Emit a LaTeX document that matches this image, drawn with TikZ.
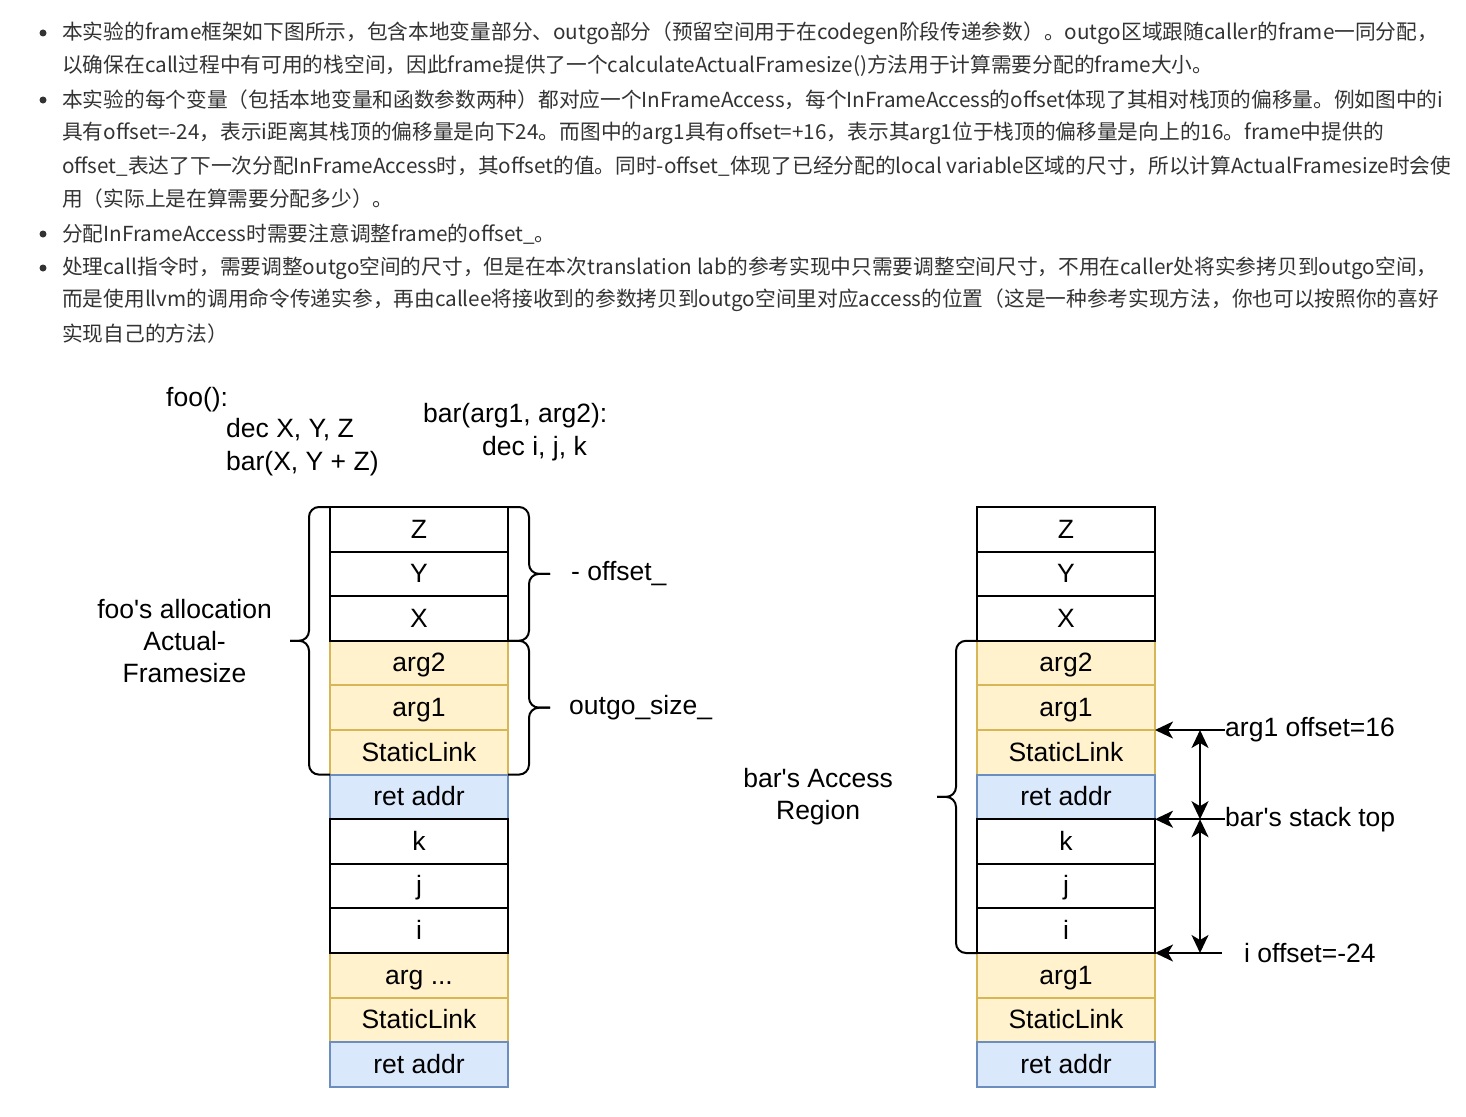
\documentclass[tikz,border=0pt]{standalone}
\usepackage{fontspec}
\setmainfont{Liberation Sans}
\newfontfamily\cjk{Noto Sans CJK SC}
\usetikzlibrary{positioning,arrows.meta}
\definecolor{txt}{HTML}{333333}
\definecolor{outgofill}{HTML}{FFF2CC}
\definecolor{outgoline}{HTML}{D6B656}
\definecolor{retfill}{HTML}{DAE8FC}
\definecolor{retline}{HTML}{6C8EBF}
\newcommand\argdots{arg ...}

\begin{document}
\begin{tikzpicture}[x=1pt,y=-1pt,
  para/.style={anchor=west, inner sep=0pt, text=txt, font=\cjk\fontsize{20.7}{24}\selectfont},
  dot/.style={circle, fill=txt, inner sep=0pt, minimum size=7pt},
  lbl/.style={inner sep=0pt, font=\fontsize{26.5}{31.8}\selectfont},
  code/.style={lbl, anchor=base west},
  cell/.style={lbl, draw, line width=2pt, minimum width=178pt, minimum height=44.6pt, outer sep=0pt, text height=18pt, text depth=0.6pt},
  plain/.style={cell, fill=white},
  outgo/.style={cell, draw=outgoline, fill=outgofill},
  ret/.style={cell, draw=retline, fill=retfill},
  bracket/.style={line width=2pt, rounded corners=10pt},
  arr/.style={line width=2pt, -{Stealth[length=18pt,width=17pt,inset=5pt]}},
  arr2/.style={line width=2pt, {Stealth[length=18pt,width=17pt,inset=5pt]}-{Stealth[length=18pt,width=17pt,inset=5pt]}}]
\fill[white] (0,0) rectangle (1466,1116);

% notes
\node[dot] (b1) at (43,33) {};
\node[dot] (b2) at (43,100) {};
\node[dot] (b3) at (43,234) {};
\node[dot] (b4) at (43,268) {};
\node[para] (p1) at (62,33) {本实验的frame框架如下图所示，包含本地变量部分、outgo部分（预留空间用于在codegen阶段传递参数）。outgo区域跟随caller的frame一同分配，};
\node[para] (p2) at (62,66) {以确保在call过程中有可用的栈空间，因此frame提供了一个calculateActualFramesize()方法用于计算需要分配的frame大小。};
\node[para] (p3) at (62,100) {本实验的每个变量（包括本地变量和函数参数两种）都对应一个InFrameAccess，每个InFrameAccess的offset体现了其相对栈顶的偏移量。例如图中的i};
\node[para] (p4) at (62,133) {具有offset=-24，表示i距离其栈顶的偏移量是向下24。而图中的arg1具有offset=+16，表示其arg1位于栈顶的偏移量是向上的16。frame中提供的};
\node[para] (p5) at (62,166) {offset\_表达了下一次分配InFrameAccess时，其offset的值。同时-offset\_体现了已经分配的local variable区域的尺寸，所以计算ActualFramesize时会使};
\node[para] (p6) at (62,199) {用（实际上是在算需要分配多少）。};
\node[para] (p7) at (62,234) {分配InFrameAccess时需要注意调整frame的offset\_。};
\node[para] (p8) at (62,268) {处理call指令时，需要调整outgo空间的尺寸，但是在本次translation lab的参考实现中只需要调整空间尺寸，不用在caller处将实参拷贝到outgo空间，};
\node[para] (p9) at (62,300) {而是使用llvm的调用命令传递实参，再由callee将接收到的参数拷贝到outgo空间里对应access的位置（这是一种参考实现方法，你也可以按照你的喜好};
\node[para] (p10) at (62,334) {实现自己的方法）};

% code
\node[code] (fooHead) at (166,406.5) {foo():};
\node[code] (fooDec) at (226,437.5) {dec X, Y, Z};
\node[code] (fooCall) at (226,470.5) {bar(X, Y + Z)};
\node[code] (barHead) at (423,422.5) {bar(arg1, arg2):};
\node[code] (barDec) at (482,455.5) {dec i, j, k};

% the two stacks
\foreach \s/\cx/\argl in {L/419/\argdots, R/1066/arg1}
  \foreach \r/\lab/\sty in {3/arg2/outgo, 4/arg1/outgo, 5/StaticLink/outgo, 10/\argl/outgo, 11/StaticLink/outgo,
      6/ret addr/ret, 12/ret addr/ret, 0/Z/plain, 1/Y/plain, 2/X/plain, 7/k/plain, 8/j/plain, 9/i/plain}
    \node[\sty] (\s\r) at (\cx,529.3+44.6*\r) {\lab};

% braces
\draw[bracket] (L0.north west) -- ++(-21,0) |- ([xshift=-40pt]L2.south west) coordinate (allocTip);
\draw[bracket] (allocTip) -- ++(19,0) |- (L5.south west);
\node[lbl, align=center, left=18pt of allocTip] (alloc) {foo\textquotesingle s allocation\\Actual-\\Framesize};

\draw[bracket] (L0.north east) -- ++(21,0) |- ([xshift=42pt]L1.east) coordinate (offTip);
\draw[bracket] (offTip) -- ++(-21,0) |- (L2.south east);
\node[lbl, right=21pt of offTip] (off) {- offset\_};

\draw[bracket] (L3.north east) -- ++(21,0) |- ([xshift=42pt]L4.east) coordinate (outTip);
\draw[bracket] (outTip) -- ++(-21,0) |- (L5.south east);
\node[lbl, right=19pt of outTip] (outgo) {outgo\_size\_};

\draw[bracket] (R3.north west) -- ++(-21,0) |- ([xshift=-40pt]R6.west) coordinate (accTip);
\draw[bracket] (accTip) -- ++(19,0) |- (R9.south west);
\node[lbl, align=center, left=44pt of accTip] (access) {bar\textquotesingle s Access\\Region};

% offsets
\node[lbl, anchor=west, right=70pt of R5.north east] (argOff) {arg1 offset=16};
\node[lbl, anchor=west, right=70pt of R7.north east] (top) {bar\textquotesingle s stack top};
\coordinate (iEnd) at ([xshift=67pt]R9.south east);
\node[lbl, right=22pt of iEnd] (iOff) {i offset=-24};
\draw[arr] (argOff) -- (R5.north east);
\draw[arr] (top) -- (R7.north east);
\draw[arr] (iEnd) -- (R9.south east);
\coordinate (m1) at ([xshift=45pt]R5.north east);
\coordinate (m2) at ([xshift=45pt]R7.north east);
\coordinate (m3) at ([xshift=45pt]R9.south east);
\draw[arr2] (m1) -- (m2);
\draw[arr2] (m2) -- (m3);
\end{tikzpicture}
\end{document}
